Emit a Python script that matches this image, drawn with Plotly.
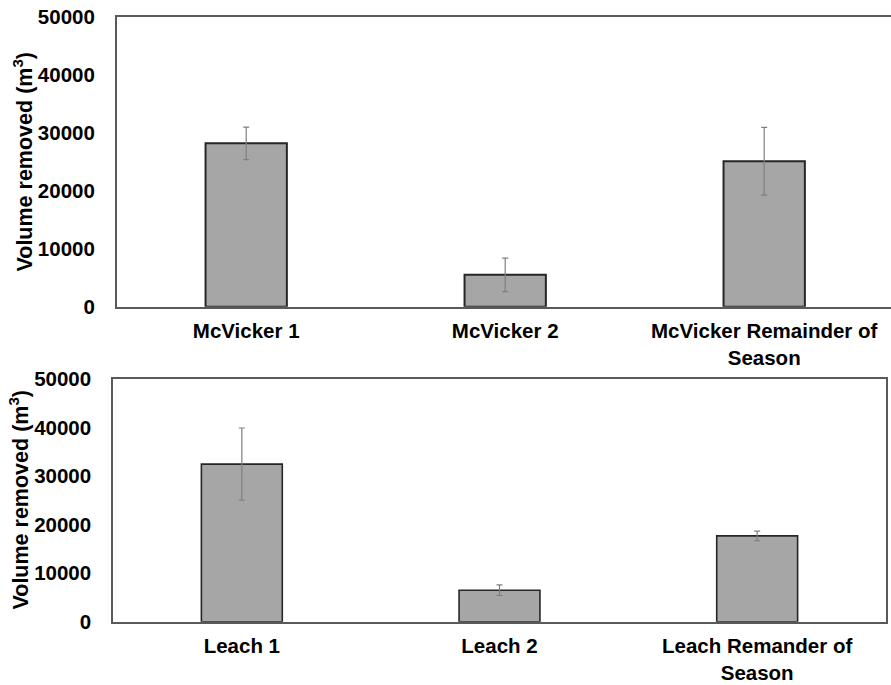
import plotly.graph_objects as go

mcv_cats = ["McVicker 1", "McVicker 2", "McVicker Remainder of<br>Season"]
mcv_vals = [28200, 5500, 25100]
mcv_err = [2800, 2900, 5850]

lea_cats = ["Leach 1", "Leach 2", "Leach Remander of<br>Season"]
lea_vals = [32500, 6500, 17700]
lea_err = [7450, 1100, 1000]

y_ticks = [0, 10000, 20000, 30000, 40000, 50000]
y_title = "Volume removed (m<sup>3</sup>)"

W, H = 891, 685
FONT = "Liberation Sans, Arial, sans-serif"
BAR_FILL = "#a6a6a6"
AX_COL = "#595959"
ERR_COL = "#7f7f7f"

fig = go.Figure()
fig.add_trace(go.Bar(
    x=mcv_cats, y=mcv_vals, xaxis="x", yaxis="y",
    marker=dict(color=BAR_FILL, line=dict(color="#262626", width=2)),
    error_y=dict(type="data", array=mcv_err, color=ERR_COL, thickness=1.2, width=3),
    showlegend=False, hoverinfo="skip",
))
fig.add_trace(go.Bar(
    x=lea_cats, y=lea_vals, xaxis="x2", yaxis="y2",
    marker=dict(color=BAR_FILL, line=dict(color="#262626", width=1.6)),
    error_y=dict(type="data", array=lea_err, color=ERR_COL, thickness=1.2, width=3),
    showlegend=False, hoverinfo="skip",
))

tick_bold = dict(family=FONT, size=20.5, color="#000000", weight="bold")
title_bold = dict(family=FONT, size=21.5, color="#000000", weight="bold")

def px_x(v):
    return v / W

def px_y(v):
    return 1 - v / H

# top panel: left 116.7, extends to ~893.7 (beyond canvas)
top_left, top_right_virtual = 116.7, 893.7
step_top = (top_right_virtual - top_left) / 3
top_xrange = [-0.5, 2.5 - (top_right_virtual - W) / step_top]

common_x = dict(showline=True, linecolor=AX_COL, linewidth=1.5, mirror=True,
                showgrid=False, ticks="", tickfont=tick_bold, ticklabelstandoff=5,
                automargin=False)
common_y = dict(range=[0, 50000], tickvals=y_ticks, ticktext=[str(v) for v in y_ticks],
                showline=True, linecolor=AX_COL, linewidth=1.5,
                showgrid=False, zeroline=False, ticks="", tickfont=tick_bold,
                ticklabelstandoff=16, automargin=False)

fig.update_layout(
    width=W, height=H,
    margin=dict(l=0, r=0, t=0, b=0, autoexpand=False),
    paper_bgcolor="white", plot_bgcolor="white",
    bargap=0.686,
    font=dict(family=FONT, color="#000000"),
    xaxis=dict(domain=[px_x(top_left), 1.0], anchor="y", range=top_xrange, **common_x),
    yaxis=dict(domain=[px_y(306.7), px_y(17)], anchor="x", mirror=False, **common_y),
    xaxis2=dict(domain=[px_x(113), px_x(886)], anchor="y2", range=[-0.5, 2.5], **common_x),
    yaxis2=dict(domain=[px_y(621.7), px_y(379.3)], anchor="x2", mirror=True, **common_y),
    annotations=[
        dict(text=y_title, textangle=-90, font=title_bold, showarrow=False,
             xref="paper", yref="paper", x=px_x(22.5), y=px_y(162),
             xanchor="center", yanchor="middle"),
        dict(text=y_title, textangle=-90, font=title_bold, showarrow=False,
             xref="paper", yref="paper", x=px_x(18), y=px_y(500.5),
             xanchor="center", yanchor="middle"),
    ],
)

fig.write_html("out.html", config={"displayModeBar": False},
               post_script="document.body.style.margin='0';")
